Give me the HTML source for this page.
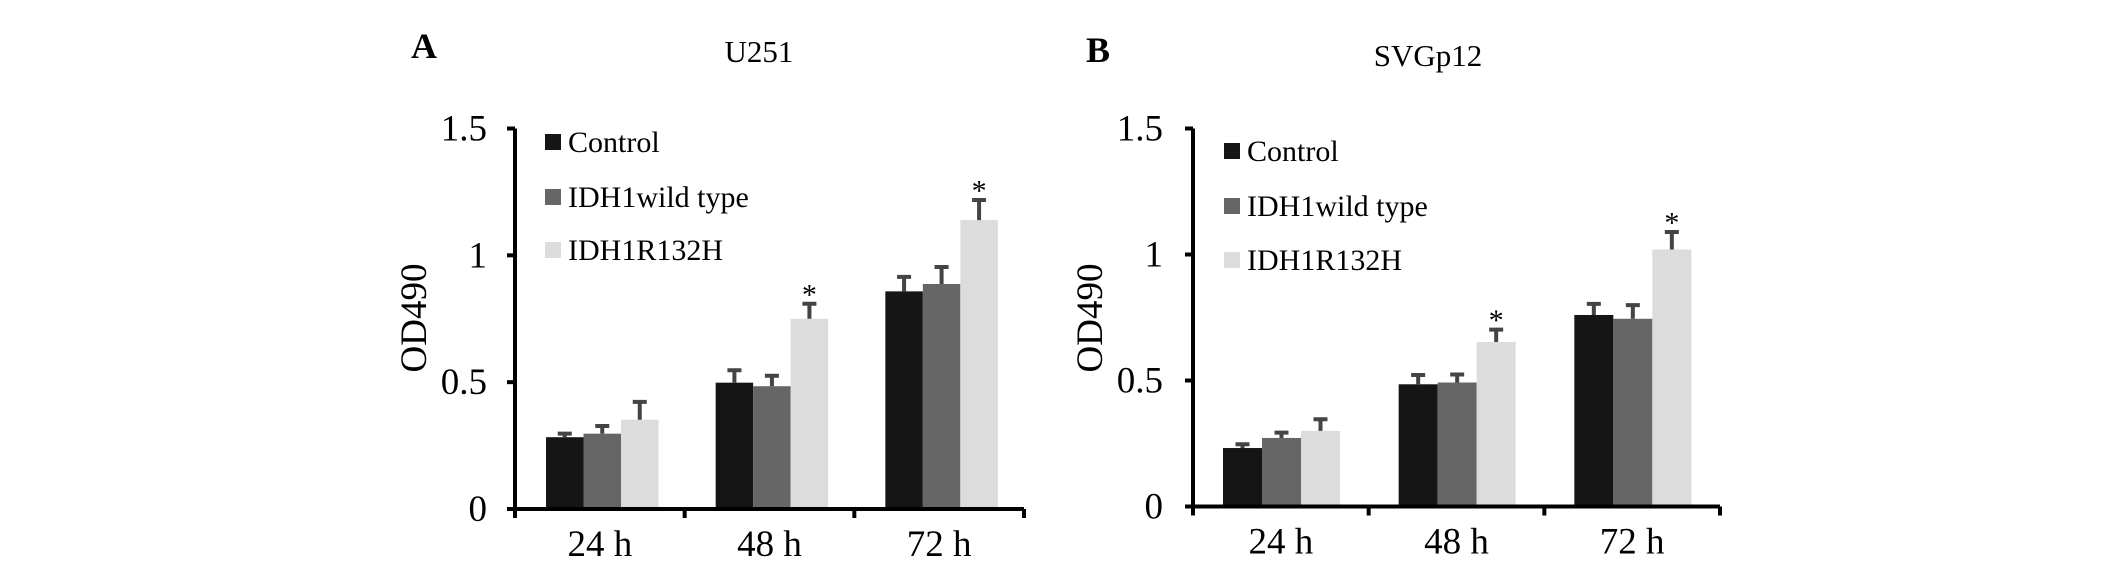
<!DOCTYPE html>
<html><head><meta charset="utf-8"><style>
html,body{margin:0;padding:0;background:#fff;}
svg{display:block;font-family:"Liberation Serif",serif;}
svg text{font-family:"Liberation Serif",serif;}
</style></head><body>
<svg id="fig" width="2126" height="573" viewBox="0 0 2126 573"></svg>
<script>
const categories = ["24 h","48 h","72 h"];
const seriesNames = ["Control","IDH1wild type","IDH1R132H"];
const yTicks = [0,0.5,1,1.5];
const yTickLabels = ["0","0.5","1","1.5"];
const aControl = [0.283,0.498,0.858];
const aWild = [0.297,0.484,0.887];
const aMut = [0.352,0.75,1.139];
const aControlErr = [0.02,0.055,0.063];
const aWildErr = [0.036,0.047,0.073];
const aMutErr = [0.076,0.065,0.085];
const aStars = [false,true,true];
const bControl = [0.232,0.485,0.76];
const bWild = [0.272,0.492,0.745];
const bMut = [0.30,0.653,1.02];
const bControlErr = [0.021,0.043,0.05];
const bWildErr = [0.027,0.038,0.06];
const bMutErr = [0.052,0.055,0.075];
const bStars = [false,true,true];

const colors = ["#151515","#666666","#dcdcdc"];
const NS = "http://www.w3.org/2000/svg";
const svg = document.getElementById('fig');
function mk(tag, attrs, parent, text){
  const e = document.createElementNS(NS, tag);
  for (const k in attrs) e.setAttribute(k, attrs[k]);
  if (tag === 'text') e.setAttribute('font-family', 'Liberation Serif, serif');
  if (text !== undefined) e.textContent = text;
  (parent||svg).appendChild(e);
  return e;
}
function panel(cfg){
  const g = mk('g', {'font-family': 'Liberation Serif, serif'});
  
  
  const y = v => cfg.y0 - v / 1.5 * (cfg.y0 - cfg.y15);
  const catW = (cfg.xEnd - cfg.x0) / categories.length;
  const x = i => cfg.x0 + i * catW;
  let t = mk('text', {x: cfg.letterX, y: cfg.titleY, 'font-size': 36, 'font-weight': 'bold'}, g, cfg.letter);
  
  
  t = mk('text', {x: cfg.titleX, y: cfg.titleY + 4, 'font-size': 31, 'text-anchor': 'middle'}, g, cfg.title);
  
  
  const data = [cfg.c, cfg.w, cfg.m], errs = [cfg.ce, cfg.we, cfg.me];
  for (let i = 0; i < categories.length; i++) {
    for (let s = 0; s < 3; s++) {
      const bx = x(i) + cfg.off + s * cfg.bw;
      const r = mk('rect', {x: bx, y: y(data[s][i]), width: cfg.bw, height: y(0) - y(data[s][i]), fill: colors[s]}, g);
      
      
      const cx = bx + cfg.bw / 2, top = y(data[s][i] + errs[s][i]);
      const e = mk('path', {d: `M${cx},${y(data[s][i])}V${top}M${cx-7},${top+1.5}H${cx+7}`, stroke: '#444', 'stroke-width': 4, fill: 'none'}, g);
      
      
      if (s === 2 && cfg.stars[i]) {
        const st = mk('text', {x: cx, y: top + 2, 'font-size': 30, 'text-anchor': 'middle'}, g, '*');
        
        
      }
    }
    const lb = mk('text', {x: x(i) + catW / 2, y: cfg.y0 + 47, 'font-size': 37, 'text-anchor': 'middle'}, g, categories[i]);
    
    
  }
  const ax = mk('path', {d: `M${cfg.x0},${y(1.5)}V${y(0)}H${cfg.xEnd}`, stroke: '#000', 'stroke-width': 4, fill: 'none'}, g);
  
  
  for (let i = 0; i <= categories.length; i++) {
    const tk = mk('line', {x1: x(i), x2: x(i), y1: y(0), y2: y(0) + 9, stroke: '#000', 'stroke-width': 4}, g);
    
    
  }
  yTicks.forEach((v, k) => {
    const tk = mk('line', {x1: cfg.x0 - 8, x2: cfg.x0, y1: y(v), y2: y(v), stroke: '#000', 'stroke-width': 4}, g);
    
    
    const tl = mk('text', {x: cfg.yLabR, y: y(v) + 12, 'font-size': 37, 'text-anchor': 'end'}, g, yTickLabels[k]);
    
    
  });
  const yt = mk('text', {x: 0, y: 0, 'font-size': 37, 'text-anchor': 'middle', transform: `translate(${cfg.ytX},${318}) rotate(-90)`}, g, 'OD490');
  
  
  seriesNames.forEach((n, s) => {
    const ly = cfg.legY[s];
    const sq = mk('rect', {x: cfg.legX, y: ly - 8, width: 16, height: 16, fill: colors[s]}, g);
    
    
    const lt = mk('text', {x: cfg.legX + 23, y: ly + 10, 'font-size': 30}, g, n);
    
    
  });
}
panel({id:'a', letter:'A', title:'U251', letterX:411, titleX:759, titleY:58,
  x0:515, xEnd:1024, y0:509, y15:128.5, off:31, bw:37.5, yLabR:487, ytX:426,
  legX:545, legY:[142,197,250],
  c:aControl, w:aWild, m:aMut, ce:aControlErr, we:aWildErr, me:aMutErr, stars:aStars});
panel({id:'b', letter:'B', title:'SVGp12', letterX:1086, titleX:1428, titleY:62,
  x0:1193, xEnd:1720, y0:506.5, y15:128.5, off:30, bw:39, yLabR:1163, ytX:1102,
  legX:1224, legY:[151,206,260],
  c:bControl, w:bWild, m:bMut, ce:bControlErr, we:bWildErr, me:bMutErr, stars:bStars});
</script>
</body></html>
